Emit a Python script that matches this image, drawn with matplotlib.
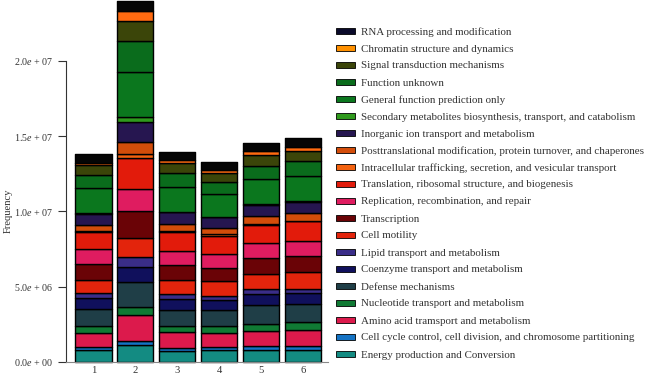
import numpy as np
import matplotlib
matplotlib.use("Agg")
import matplotlib.pyplot as plt
from matplotlib.patches import Rectangle

# =====================================
# DATA (millions of reads, bottom -> top of stack)
# =====================================

categories = [
    "Energy production and Conversion",
    "Cell cycle control, cell division, and chromosome partitioning",
    "Amino acid tramsport and metabolism",
    "Nucleotide transport and metabolism",
    "Defense mechanisms",
    "Coenzyme transport and metabolism",
    "Lipid transport and metabolism",
    "Cell motility",
    "Transcription",
    "Replication, recombination, and repair",
    "Translation, ribosomal structure, and biogenesis",
    "Intracellular trafficking, secretion, and vesicular transport",
    "Posttranslational modification, protein turnover, and chaperones",
    "Inorganic ion transport and metabolism",
    "Secondary metabolites biosynthesis, transport, and catabolism",
    "General function prediction only",
    "Function unknown",
    "Signal transduction mechanisms",
    "Chromatin structure and dynamics",
    "RNA processing and modification",
]

samples = ["1", "2", "3", "4", "5", "6"]

s1 = [0.78, 0.20, 0.97, 0.44, 1.15, 0.71, 0.31, 0.91, 1.06, 0.95,
      1.17, 0.08, 0.40, 0.71, 0.08, 1.64, 0.84, 0.69, 0.13, 0.60]
s2 = [1.13, 0.29, 1.68, 0.55, 1.64, 1.02, 0.64, 1.31, 1.77, 1.44,
      2.06, 0.27, 0.82, 1.35, 0.31, 3.01, 2.04, 1.33, 0.64, 0.69]
s3 = [0.75, 0.18, 1.04, 0.40, 1.11, 0.71, 0.31, 0.97, 0.95, 0.95,
      1.24, 0.09, 0.44, 0.80, 0.05, 1.66, 0.91, 0.66, 0.22, 0.53]
s4 = [0.78, 0.20, 0.97, 0.44, 1.04, 0.66, 0.31, 0.97, 0.89, 0.89,
      1.24, 0.09, 0.42, 0.71, 0.05, 1.53, 0.78, 0.60, 0.16, 0.58]
s5 = [0.82, 0.22, 1.04, 0.44, 1.28, 0.71, 0.35, 1.00, 1.06, 0.97,
      1.24, 0.07, 0.49, 0.75, 0.05, 1.64, 0.91, 0.71, 0.24, 0.58]
s6 = [0.82, 0.22, 1.11, 0.49, 1.22, 0.71, 0.27, 1.13, 1.09, 1.00,
      1.28, 0.05, 0.49, 0.75, 0.05, 1.71, 0.95, 0.71, 0.24, 0.60]

colors = [
    "#138b82", "#1573c4", "#dc1a4c", "#107a34", "#1f3e47",
    "#10105c", "#3a2d88", "#e3240c", "#6a0306", "#df1c60",
    "#e21b0b", "#f3620f", "#d34d0a", "#261650", "#2f9a1d",
    "#0b771e", "#0a6c1c", "#3b4509", "#ff6a10", "#050505",
]

legend_colors = list(colors)
legend_colors[18] = "#ff9000"
legend_colors[19] = "#0a0a2a"

ytick_vals = [0, 5e6, 1e7, 1.5e7, 2e7]
ytick_labels = [r"0.0$e$ + 00", r"5.0$e$ + 06", r"1.0$e$ + 07",
                r"1.5$e$ + 07", r"2.0$e$ + 07"]

# =====================================
# FIGURE
# =====================================

plt.rcParams["font.family"] = ["Liberation Serif", "DejaVu Serif"]
plt.rcParams["mathtext.fontset"] = "custom"
plt.rcParams["mathtext.it"] = "Liberation Serif:italic"
plt.rcParams["mathtext.rm"] = "Liberation Serif"

FS = 7.9
W, H = 648, 376
fig = plt.figure(figsize=(W / 100, H / 100), dpi=100)

ax = fig.add_axes([66 / W, 1 - 362 / H, (328 - 66) / W, 362 / H])

data = np.array([s1, s2, s3, s4, s5, s6]).T * 1e6
x = np.arange(1, len(samples) + 1)
bottom = np.zeros(len(samples))

for vals, col in zip(data, colors):
    ax.bar(x, vals, width=0.86, bottom=bottom, color=col,
           edgecolor="black", linewidth=1.0, joinstyle="round",
           clip_on=False)
    bottom += vals

ax.set_xlim(0.344, 6.597)
ax.set_ylim(0, 2.405e7)

for s in ["top", "right"]:
    ax.spines[s].set_visible(False)
ax.spines["left"].set_bounds(0, 2e7)
ax.spines["left"].set_linewidth(0.8)
ax.spines["bottom"].set_linewidth(0.8)
ax.spines["left"].set_color("#333333")
ax.spines["bottom"].set_color("#888888")

ax.set_yticks(ytick_vals)
ax.set_yticklabels(ytick_labels, fontsize=7.2, color="#333333")
ax.tick_params(axis="y", length=5.8, width=0.8, pad=3.6, color="#333333")

ax.set_xticks(x)
ax.set_xticklabels(samples, fontsize=7.6, color="#333333")
ax.tick_params(axis="x", length=0, pad=3)

fig.text(8 / W, 1 - 211 / H, "Frequency", rotation=90, fontsize=7.6,
         ha="center", va="center", color="#333333")

# =====================================
# LEGEND (top -> bottom)
# =====================================

for i, (label, col) in enumerate(zip(categories[::-1], legend_colors[::-1])):
    yc = 31 + 17 * i
    fig.patches.append(Rectangle((336 / W, 1 - (yc + 3) / H), 19 / W, 6 / H,
                                 transform=fig.transFigure, facecolor=col,
                                 edgecolor="black", linewidth=0.6))
    fig.text(361 / W, 1 - yc / H, label, fontsize=FS, ha="left",
             va="center_baseline", color="#333333")

plt.savefig("out.png", dpi=100)
plt.close()
